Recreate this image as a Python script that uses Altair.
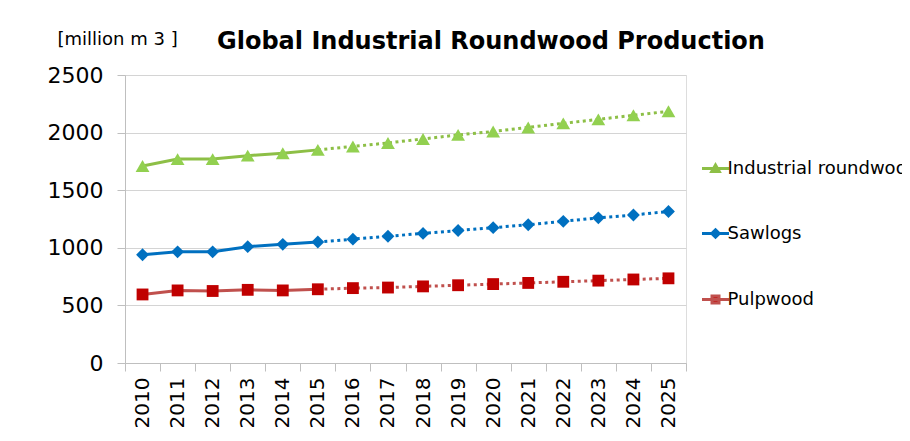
import altair as alt
import pandas as pd

years = [str(y) for y in range(2010, 2026)]
industrial = [1710, 1770, 1770, 1800, 1820, 1850, 1880, 1910, 1945, 1980, 2010, 2045, 2080, 2115, 2150, 2185]
sawlogs = [940, 965, 965, 1010, 1030, 1050, 1075, 1100, 1125, 1150, 1175, 1200, 1230, 1260, 1285, 1315]
pulpwood = [595, 630, 625, 635, 630, 640, 650, 655, 665, 675, 685, 695, 705, 715, 725, 735]
series_names = ["Industrial roundwood", "Sawlogs", "Pulpwood"]
last_actual = 2015
y_ticks = [0, 500, 1000, 1500, 2000, 2500]

rows = []
for name, vals in zip(series_names, [industrial, sawlogs, pulpwood]):
    for yr, v in zip(years, vals):
        rows.append({"year": yr, "yr": int(yr), "series": name, "value": v})
df = pd.DataFrame(rows)

line_colors = ["#8DBF46", "#0070C0", "#C0504D"]
marker_colors = ["#92D050", "#0070C0", "#C00000"]
marker_shapes = ["triangle-up", "diamond", "square"]
legend_paths = [
    "M-2.7,0H2.7M0,-0.7L0.75,0.6H-0.75Z",
    "M-2.7,0H2.7M0,-0.75L0.75,0L0,0.75L-0.75,0Z",
    "M-2.7,0H2.7M-0.7,-0.7H0.7V0.7H-0.7Z",
]

FONT = "DejaVu Sans"

x_enc = alt.X(
    "year:N",
    title=None,
    scale=alt.Scale(type="band", domain=years, paddingInner=0, paddingOuter=0),
    axis=alt.Axis(
        labelAngle=270, tickBand="extent", labelFontSize=20, labelFont=FONT,
        labelColor="#000000", tickSize=8, labelPadding=6, grid=False,
        domainColor="#BFBFBF", tickColor="#BFBFBF",
    ),
)
y_enc = alt.Y(
    "value:Q",
    scale=alt.Scale(domain=[0, 2500], nice=False),
    axis=alt.Axis(
        values=y_ticks, format="d", title="[million m 3 ]", titleAngle=0, titleAlign="left",
        titleBaseline="alphabetic", titleX=-68, titleY=-31, titleFontSize=18,
        titleFont=FONT, titleFontWeight="normal", titleColor="#000000",
        labelFontSize=22, labelFont=FONT, labelColor="#000000", tickSize=8,
        labelPadding=14, grid=True, gridColor="#D4D4D4", domainColor="#BFBFBF",
        tickColor="#BFBFBF",
    ),
)
color_enc = alt.Color("series:N", scale=alt.Scale(domain=series_names, range=line_colors), legend=None)

base = alt.Chart(df)

solid = base.transform_filter(alt.datum.yr <= last_actual).mark_line(strokeWidth=3).encode(
    x=x_enc, y=y_enc, color=color_enc, detail="series:N"
)
dotted = base.transform_filter(alt.datum.yr >= last_actual).mark_line(
    strokeWidth=3, strokeDash=[3, 3.5]
).encode(x=x_enc, y=y_enc, color=color_enc, detail="series:N")

markers = base.mark_point(filled=True, opacity=1, strokeWidth=0).encode(
    x=x_enc, y=y_enc,
    fill=alt.Fill("series:N", scale=alt.Scale(domain=series_names, range=marker_colors), legend=None),
    shape=alt.Shape("series:N", scale=alt.Scale(domain=series_names, range=marker_shapes), legend=None),
    size=alt.Size("series:N", scale=alt.Scale(domain=series_names, range=[190, 140, 150]), legend=None),
)

leg = dict(
    orient="none", legendX=581.5, legendY=84.5, title=None, direction="vertical",
    labelFontSize=18, labelFont=FONT, labelColor="#000000", rowPadding=46,
    symbolStrokeWidth=3, symbolSize=100, labelOffset=3, padding=0,
    symbolOpacity=1, labelLimit=0,
)
legend_layer = base.mark_point(filled=True, opacity=0, size=100, strokeWidth=3).encode(
    x=x_enc, y=y_enc,
    fill=alt.Fill("series:N", scale=alt.Scale(domain=series_names, range=marker_colors), legend=alt.Legend(**leg)),
    stroke=alt.Stroke("series:N", scale=alt.Scale(domain=series_names, range=line_colors), legend=alt.Legend(**leg)),
    shape=alt.Shape("series:N", scale=alt.Scale(domain=series_names, range=legend_paths), legend=alt.Legend(**leg)),
)

chart = alt.layer(solid, dotted, markers, legend_layer).resolve_scale(
    shape="independent", fill="independent", stroke="independent", size="independent"
).properties(
    width=561,
    height=288,
    autosize=alt.AutoSizeParams(type="none"),
    padding={"left": 117, "top": 67, "right": 216, "bottom": 70},
    title=alt.TitleParams(
        "Global Industrial Roundwood Production", anchor="start", dx=170, dy=68,
        fontSize=24, font=FONT, fontWeight="bold", color="#000000",
        baseline="alphabetic", offset=25,
    ),
).configure_view(stroke=None).configure(background="#FFFFFF")

chart.save("out.html", embed_options={"renderer": "svg", "actions": False})
